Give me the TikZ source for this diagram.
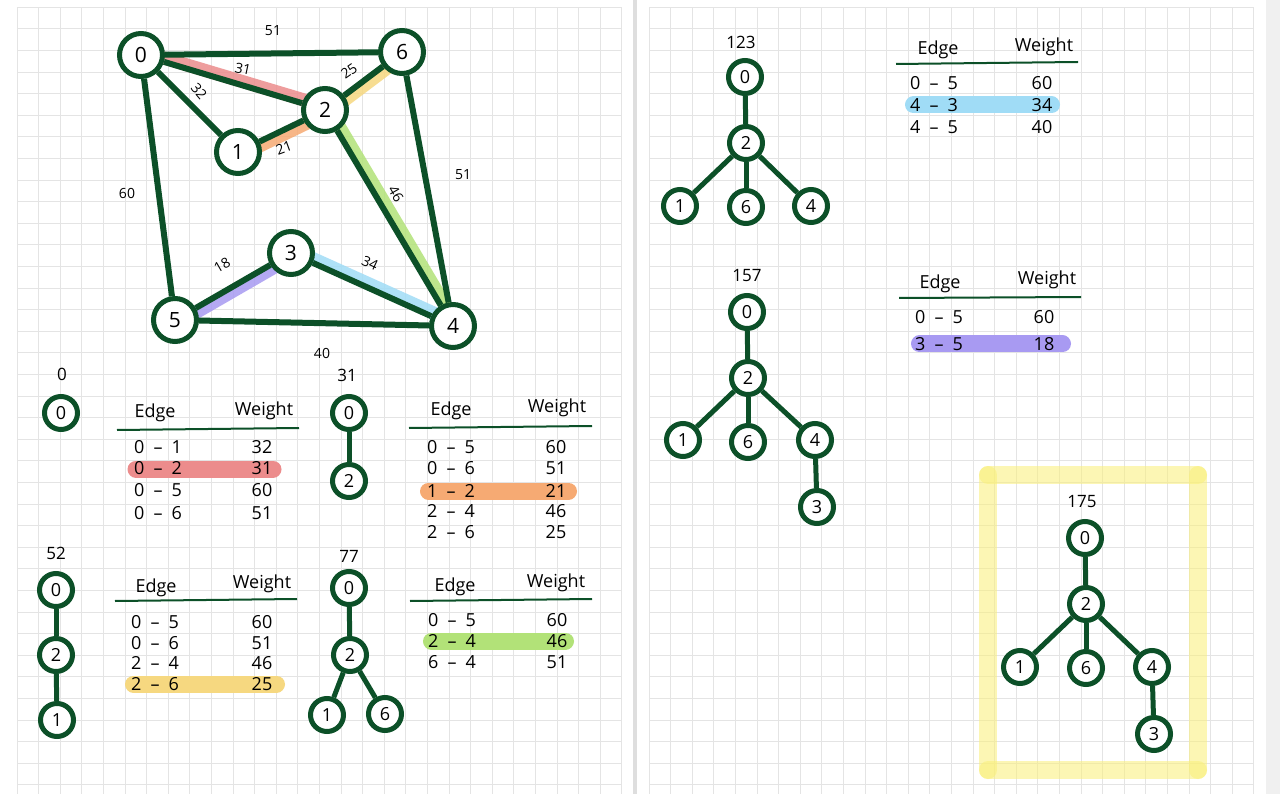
\documentclass[tikz,border=0pt]{standalone}
\usepackage{fontspec}
\setmainfont{Open Sans}
\definecolor{dg}{RGB}{12,80,40}
\definecolor{gridc}{RGB}{228,228,228}
\definecolor{pinkc}{RGB}{236,140,140}
\definecolor{orangec}{RGB}{246,170,115}
\definecolor{yellowc}{RGB}{246,216,128}
\definecolor{greenc}{RGB}{178,226,120}
\definecolor{bluec}{RGB}{160,220,246}
\definecolor{purplec}{RGB}{168,154,242}
\definecolor{boxc}{RGB}{250,240,120}
\pgfdeclarelayer{back}
\pgfdeclarelayer{mid}
\pgfsetlayers{back,mid,main}
\tikzset{
  gnode/.style={circle, draw=dg, line width=5pt, fill=white, minimum size=43pt, inner sep=0pt, font=\fontsize{21}{21}\selectfont},
  tnode/.style={circle, draw=dg, line width=5pt, fill=white, minimum size=33pt, inner sep=0pt, font=\fontsize{18}{18}\selectfont},
  gedge/.style={draw=dg, line width=6pt},
  tedge/.style={draw=dg, line width=5pt},
  band/.style={line width=13pt, line cap=round, opacity=0.85},
  elabel/.style={inner sep=0pt, font=\fontsize{14}{14}\selectfont},
  score/.style={inner sep=0pt, font=\fontsize{17}{17}\selectfont},
  cell/.style={inner sep=0pt, font=\fontsize{18}{18}\selectfont},
  hrule/.style={draw=dg, line width=2pt},
  hl/.style={line width=17pt, line cap=round},
  gridline/.style={draw=gridc, line width=1pt},
  boxside/.style={draw=boxc, line width=18pt, line cap=round, opacity=0.55}
}
\newcommand{\ed}[2]{#1\enspace–\enspace#2}
\begin{document}
\begin{tikzpicture}[x=1pt,y=-1pt]
\useasboundingbox (0,0) rectangle (1280,794);
\begin{pgfonlayer}{back}
\fill[white] (0,0) rectangle (1280,794);
\fill[black!6] (1266,0) rectangle (1280,794);
\fill[black!13] (633,0) rectangle (637,794);
\foreach \i in {0,...,28} {
  \draw[gridline] ({17+21.6*\i},7.3) -- ({17+21.6*\i},794);
  \draw[gridline] ({649+21.6*\i},7.3) -- ({649+21.6*\i},794);
}
\foreach \j in {0,...,36} {
  \draw[gridline] (17,{7.3+21.6*\j}) -- (622,{7.3+21.6*\j});
  \draw[gridline] (649,{7.3+21.6*\j}) -- (1254,{7.3+21.6*\j});
}
\end{pgfonlayer}

% ---------- main graph ----------
\node[gnode] (g0) at (141,55) {0};
\node[gnode] (g6) at (402,52) {6};
\node[gnode] (g2) at (325,110) {2};
\node[gnode] (g1) at (238,152) {1};
\node[gnode] (g3) at (291,253) {3};
\node[gnode] (g5) at (175,320) {5};
\node[gnode] (g4) at (453,326) {4};

\begin{pgfonlayer}{mid}
\draw[band, pinkc] ([xshift=1pt,yshift=3.5pt]g0.center) -- ([xshift=1pt,yshift=3.5pt]g2.center);
\draw[band, orangec] ([xshift=1.8pt,yshift=-3.6pt]g1.center) -- ([xshift=1.8pt,yshift=-3.6pt]g2.center);
\draw[band, yellowc] ([xshift=2.4pt,yshift=-3.2pt]g2.center) -- ([xshift=2.4pt,yshift=-3.2pt]g6.center);
\draw[band, greenc] ([xshift=3.4pt,yshift=2pt]g2.center) -- ([xshift=3.4pt,yshift=2pt]g4.center);
\draw[band, bluec] ([xshift=1.6pt,yshift=3.6pt]g3.center) -- ([xshift=1.6pt,yshift=3.6pt]g4.center);
\draw[band, purplec] ([xshift=2pt,yshift=-3.5pt]g5.center) -- ([xshift=2pt,yshift=-3.5pt]g3.center);
\draw[gedge] (g0) -- (g6);
\draw[gedge] (g0) -- (g2);
\draw[gedge] (g0) -- (g1);
\draw[gedge] (g0) -- (g5);
\draw[gedge] (g1) -- (g2);
\draw[gedge] (g2) -- (g6);
\draw[gedge] (g2) -- (g4);
\draw[gedge] (g6) -- (g4);
\draw[gedge] (g5) -- (g3);
\draw[gedge] (g3) -- (g4);
\draw[gedge] (g5) -- (g4);
\end{pgfonlayer}

\node[elabel] (l06) at (273,31) {51};
\node[elabel, rotate=-12] (l02) at (243,69) {31};
\node[elabel, rotate=-50] (l01) at (199,91) {32};
\node[elabel, rotate=35] (l26) at (349,71) {25};
\node[elabel, rotate=20] (l12) at (284,148) {21};
\node[elabel, rotate=-60] (l24) at (396,194) {46};
\node[elabel] (l64) at (463,175) {51};
\node[elabel] (l05) at (127,193) {60};
\node[elabel, rotate=30] (l53) at (222,265) {18};
\node[elabel, rotate=-25] (l34) at (370,263) {34};
\node[elabel] (l54) at (322,353) {40};

% ---------- step 0 ----------
\node[score] (sa) at (62,374) {0};
\node[tnode] (a0) at (61,413) {0};
\draw[hl, pinkc] (136,469) -- (273,469);
\node[cell] (t1h1) at (155,413) {Edge};
\node[cell] (t1h2) at (264,411) {Weight};
\draw[hrule] (117,430) -- (299,428);
\node[cell] (t1a) at (158,447) {\ed01};  \node[cell] (t1b) at (262,447) {32};
\node[cell] (t1c) at (158,468) {\ed02};  \node[cell] (t1d) at (262,468) {31};
\node[cell] (t1e) at (158,490) {\ed05};  \node[cell] (t1f) at (262,490) {60};
\node[cell] (t1g) at (158,513) {\ed06};  \node[cell] (t1i) at (262,513) {51};

% ---------- step 31 ----------
\node[score] (sb) at (347,375) {31};
\node[tnode] (b0) at (349,413) {0};
\node[tnode] (b2) at (349,481) {2};
\begin{pgfonlayer}{mid}
\draw[tedge] (b0) -- (b2);
\end{pgfonlayer}
\draw[hl, orangec] (428.5,491) -- (568.5,491);
\node[cell] (t2h1) at (451,411) {Edge};
\node[cell] (t2h2) at (557,408) {Weight};
\draw[hrule] (409,428) -- (592,426);
\node[cell] (t2a) at (451,447) {\ed05};  \node[cell] (t2b) at (556,447) {60};
\node[cell] (t2c) at (451,468) {\ed06};  \node[cell] (t2d) at (556,468) {51};
\node[cell] (t2e) at (451,491) {\ed12};  \node[cell] (t2f) at (556,491) {21};
\node[cell] (t2g) at (451,511) {\ed24};  \node[cell] (t2i) at (556,511) {46};
\node[cell] (t2j) at (451,532) {\ed26};  \node[cell] (t2k) at (556,532) {25};

% ---------- step 52 ----------
\node[score] (sc) at (56,553) {52};
\node[tnode] (c0) at (56,590) {0};
\node[tnode] (c2) at (56,655) {2};
\node[tnode] (c1) at (57,720) {1};
\begin{pgfonlayer}{mid}
\draw[tedge] (c0) -- (c2);
\draw[tedge] (c2) -- (c1);
\end{pgfonlayer}
\draw[hl, yellowc] (133.5,684) -- (276.5,684);
\node[cell] (t3h1) at (156,588) {Edge};
\node[cell] (t3h2) at (262,584) {Weight};
\draw[hrule] (115,601) -- (297,599);
\node[cell] (t3a) at (155,622) {\ed05};  \node[cell] (t3b) at (262,622) {60};
\node[cell] (t3c) at (155,643) {\ed06};  \node[cell] (t3d) at (262,643) {51};
\node[cell] (t3e) at (155,663) {\ed24};  \node[cell] (t3f) at (262,663) {46};
\node[cell] (t3g) at (155,684) {\ed26};  \node[cell] (t3i) at (262,684) {25};

% ---------- step 77 ----------
\node[score] (sd) at (349,556) {77};
\node[tnode] (d0) at (349,588) {0};
\node[tnode] (d2) at (350,655) {2};
\node[tnode] (d1) at (327,715) {1};
\node[tnode] (d6) at (385,714) {6};
\begin{pgfonlayer}{mid}
\draw[tedge] (d0) -- (d2);
\draw[tedge] (d2) -- (d1);
\draw[tedge] (d2) -- (d6);
\end{pgfonlayer}
\draw[hl, greenc] (431.5,641) -- (565.5,641);
\node[cell] (t4h1) at (455,587) {Edge};
\node[cell] (t4h2) at (556,583) {Weight};
\draw[hrule] (410,601) -- (592,599);
\node[cell] (t4a) at (452,620) {\ed05};  \node[cell] (t4b) at (557,620) {60};
\node[cell] (t4c) at (452,641) {\ed24};  \node[cell] (t4d) at (557,641) {46};
\node[cell] (t4e) at (452,662) {\ed64};  \node[cell] (t4f) at (557,662) {51};

% ---------- step 123 ----------
\node[score] (se) at (741,42) {123};
\node[tnode] (e0) at (745,77) {0};
\node[tnode] (e2) at (746,143) {2};
\node[tnode] (e1) at (680,206) {1};
\node[tnode] (e6) at (746,207) {6};
\node[tnode] (e4) at (811,206) {4};
\begin{pgfonlayer}{mid}
\draw[tedge] (e0) -- (e2);
\draw[tedge] (e2) -- (e1);
\draw[tedge] (e2) -- (e6);
\draw[tedge] (e2) -- (e4);
\end{pgfonlayer}
\draw[hl, bluec] (913.5,105) -- (1051.5,105);
\node[cell] (t5h1) at (938,50) {Edge};
\node[cell] (t5h2) at (1044,47) {Weight};
\draw[hrule] (896,64) -- (1078,62);
\node[cell] (t5a) at (934,83) {\ed05};   \node[cell] (t5b) at (1042,83) {60};
\node[cell] (t5c) at (934,105) {\ed43};  \node[cell] (t5d) at (1042,105) {34};
\node[cell] (t5e) at (934,127) {\ed45};  \node[cell] (t5f) at (1042,127) {40};

% ---------- step 157 ----------
\node[score] (sf) at (747,276) {157};
\node[tnode] (f0) at (747,312) {0};
\node[tnode] (f2) at (748,378) {2};
\node[tnode] (f1) at (683,440) {1};
\node[tnode] (f6) at (748,442) {6};
\node[tnode] (f4) at (815,440) {4};
\node[tnode] (f3) at (817,507) {3};
\begin{pgfonlayer}{mid}
\draw[tedge] (f0) -- (f2);
\draw[tedge] (f2) -- (f1);
\draw[tedge] (f2) -- (f6);
\draw[tedge] (f2) -- (f4);
\draw[tedge] (f4) -- (f3);
\end{pgfonlayer}
\draw[hl, purplec] (919.5,344) -- (1062.5,344);
\node[cell] (t6h1) at (940,284) {Edge};
\node[cell] (t6h2) at (1047,280) {Weight};
\draw[hrule] (899,298) -- (1081,297);
\node[cell] (t6a) at (939,317) {\ed05};  \node[cell] (t6b) at (1044,317) {60};
\node[cell] (t6c) at (939,344) {\ed35};  \node[cell] (t6d) at (1044,344) {18};

% ---------- final 175 ----------
\begin{pgfonlayer}{back}
\draw[boxside] (988,475) -- (1198,475);
\draw[boxside] (1198,475) -- (1198,770);
\draw[boxside] (1198,770) -- (988,770);
\draw[boxside] (988,770) -- (988,475);
\end{pgfonlayer}
\node[score] (sh) at (1082,502) {175};
\node[tnode] (h0) at (1085,538) {0};
\node[tnode] (h2) at (1086,604) {2};
\node[tnode] (h1) at (1020,667) {1};
\node[tnode] (h6) at (1086,668) {6};
\node[tnode] (h4) at (1152,667) {4};
\node[tnode] (h3) at (1154,734) {3};
\begin{pgfonlayer}{mid}
\draw[tedge] (h0) -- (h2);
\draw[tedge] (h2) -- (h1);
\draw[tedge] (h2) -- (h6);
\draw[tedge] (h2) -- (h4);
\draw[tedge] (h4) -- (h3);
\end{pgfonlayer}
\end{tikzpicture}
\end{document}
